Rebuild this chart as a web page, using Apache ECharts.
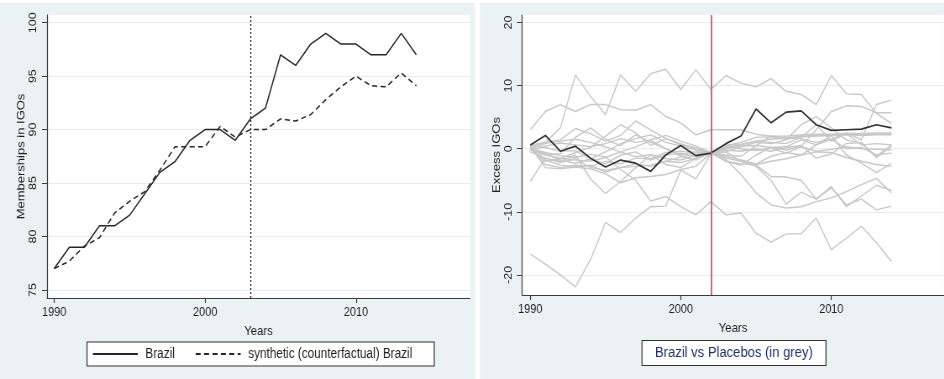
<!DOCTYPE html>
<html>
<head>
<meta charset="utf-8">
<script src="https://cdn.jsdelivr.net/npm/echarts@6/dist/echarts.min.js"></script>
<style>
  html, body { margin: 0; padding: 0; background: #ffffff; overflow: hidden; }
  #frame { position: relative; width: 944px; height: 379px; overflow: hidden; }
  /* the figure is laid out on a wider canvas and squeezed horizontally */
  #chart { position: absolute; left: 0; top: 0; width: 1124px; height: 379px;
           transform: scaleX(0.84); transform-origin: 0 0; }
</style>
</head>
<body>
<div id="frame"><div id="chart"></div></div>
<script>
// Years covered by both panels
const years = [1990, 1991, 1992, 1993, 1994, 1995, 1996, 1997, 1998, 1999, 2000, 2001, 2002,
               2003, 2004, 2005, 2006, 2007, 2008, 2009, 2010, 2011, 2012, 2013, 2014];

// Left panel: IGO memberships, actual vs synthetic Brazil
const brazilIGOs    = [77, 79, 79, 81, 81, 82, 84, 86, 87, 89, 90, 90, 89,
                       91, 92, 97, 96, 98, 99, 98, 98, 97, 97, 99, 97];
const syntheticIGOs = [77, 77.7, 79.1, 79.9, 82.2, 83.3, 84.2, 86.2, 88.4, 88.4, 88.4, 90.3, 89.3,
                       90.0, 90.0, 91.0, 90.8, 91.4, 92.8, 94.0, 95.0, 94.1, 94.0, 95.3, 94.1];

// Right panel: excess IGOs for Brazil and the placebo units
const brazilGap = [0.6, 2.1, -0.4, 0.4, -1.5, -2.9, -1.8, -2.3, -3.6, -1.0, 0.5, -1.1, -0.7,
                   0.8, 2.0, 6.3, 4.1, 5.8, 6.0, 3.8, 2.9, 3.0, 3.1, 3.8, 3.3];

const placeboGaps = [
  [-16.7, -18.3, -20.0, -21.9, -17.6, -11.7, -13.3, -11.0, -9.2, -9.1, -3.4, -4.8, -0.8,
   -1.7, -4.1, -7.0, -8.9, -9.4, -9.2, -8.4, -7.8, -6.8, -5.7, -4.7, -7.0],
  [0.3, 1.0, 3.3, 11.7, 8.3, 5.4, 11.7, 9.1, 11.9, 12.6, 9.4, 12.5, 9.4,
   11.6, 10.4, 9.8, 11.1, 9.1, 8.6, 7.0, 11.6, 8.7, 8.6, 5.6, 4.0],
  [3.0, 5.9, 7.0, 5.9, 7.0, 7.0, 6.2, 6.1, 7.0, 5.1, 4.1, 2.2, 3.0,
   3.0, 3.0, 2.3, 2.0, 2.0, 2.2, 2.3, 2.3, 2.4, 2.4, 2.5, 2.5],
  [0.0, -0.6, -1.1, -1.4, -0.9, -1.3, -3.3, -5.0, -8.3, -7.6, -9.2, -10.5, -8.4,
   -10.5, -10.2, -13.4, -14.8, -13.5, -13.5, -11.0, -16.0, -14.2, -12.3, -14.9, -17.9],
  [-5.2, -1.5, -2.0, -1.0, -4.8, -7.1, -5.2, -3.0, -1.0, -2.5, -3.0, -1.5, -0.6,
   -2.0, -2.4, -2.6, -4.4, -4.5, -5.0, -8.0, -6.2, -8.9, -8.0, -9.7, -9.1],
  [0.5, -1.8, -2.6, -2.9, -3.2, -4.0, -5.4, -4.6, -4.4, -4.1, -3.3, -2.8, -0.7,
   -0.5, -2.0, -2.8, -5.0, -8.8, -6.9, -8.0, -6.0, -9.2, -7.5, -5.8, -6.6],
  [0.0, -1.0, -0.8, 1.8, 3.3, 1.5, 0.5, 2.2, 1.0, 0.0, -1.0, -0.5, -0.6,
   -0.5, 0.3, 1.0, 0.8, 1.4, 3.8, 5.1, 3.3, 1.4, 0.8, -1.2, 0.6],
  [0.0, 0.8, 1.2, 1.5, 1.0, 0.3, -0.5, 0.3, 1.3, 0.0, -1.2, -1.8, -0.6,
   0.0, 0.4, 0.5, 0.2, -0.2, 0.4, 3.0, 5.9, 6.8, 6.7, 5.7, 5.7],
  [-0.5, -1.5, -2.2, -1.6, -3.0, -3.4, -3.0, -2.4, -2.8, -2.0, -1.3, -0.9, -0.6,
   -1.0, -1.2, 0.5, 2.0, 1.8, 1.6, 1.0, 1.5, 2.5, 1.4, 7.0, 7.7],
  [-0.3, 0.4, 0.9, 0.6, 0.3, 0.8, 1.6, 1.0, 1.4, 2.1, 1.2, 0.4, -0.6,
   0.2, 0.6, 1.2, 1.5, 1.7, 2.0, 2.1, 2.2, 2.3, 2.3, 2.3, 2.3],
  [0.2, -0.8, -1.8, -2.3, -1.6, -2.4, -1.0, -0.5, -1.8, -1.0, -0.7, -1.3, -0.6,
   -2.0, -2.6, -1.0, 0.2, 0.3, 1.4, 0.6, 2.1, -1.0, -2.3, -3.8, -2.3],
  [-0.2, -1.0, -1.5, -1.8, -2.0, -1.4, -0.5, -1.3, -0.9, -1.6, -1.8, -1.0, -0.6,
   -1.5, -2.0, -2.5, -2.0, -1.6, -1.0, -0.5, -0.6, -1.4, -2.0, -2.5, -2.8],
  [0.1, -2.5, -3.0, -2.6, -2.8, -2.0, -2.4, -1.5, -1.6, -0.6, -0.4, -0.6, -0.6,
   -0.2, -0.4, 0.0, -0.4, 0.2, 0.5, -1.5, -0.8, 0.8, 1.0, -1.4, 0.4],
  [0.4, 0.2, -0.4, -0.3, -1.6, -0.5, 0.8, 1.6, 2.2, 1.0, 0.4, -0.2, -0.6,
   0.3, 0.0, -0.3, 0.1, -0.7, 0.3, -0.4, -0.1, 0.3, 0.0, -0.1, -0.2],
  [0.0, -2.0, -1.6, -0.6, 0.2, 2.0, 3.8, 2.5, 0.5, 1.6, 0.8, 0.1, -0.6,
   0.5, 1.0, 1.8, 1.9, 1.5, 1.9, 2.0, 2.1, 2.2, 2.1, 2.2, 2.2],
  [0.3, -3.0, -3.2, -2.9, -2.6, -3.7, -3.0, -2.8, -2.6, -2.0, -2.2, -1.5, -0.6,
   -1.2, -1.8, -2.4, -1.2, -0.6, -1.0, 0.6, 1.5, 0.0, 0.2, -1.0, -0.7],
  [0.6, 1.0, 1.4, 3.2, 2.4, 1.2, 2.1, 4.4, 3.0, 1.6, 0.6, 0.1, -0.6,
   0.5, 0.7, 1.2, 1.0, 0.8, 1.8, 3.8, 1.2, 2.4, 0.6, 0.8, 0.6]
];

// Axis ticks and reference years
const xTicks = [1990, 2000, 2010];
const leftYTicks = [75, 80, 85, 90, 95, 100];
const rightYTicks = [-20, -10, 0, 10, 20];
const leftCutYear = 2003;
const rightCutYear = 2002;

// horizontal squeeze applied to the canvas (see CSS); x sizes below are pre-squeeze
const SX = 0.84;
const hx = v => v / SX;

const FONT = '"Liberation Sans", Arial, sans-serif';
const AXIS_COLOR = '#3c3c3c';
const TEXT_COLOR = '#1e1e1e';
const GRID_COLOR = '#e3ecee';
const PANEL_BG = '#eaf2f3';

const pairs = vals => years.map((y, i) => [y, vals[i]]);

function xAxisFor(gridIndex, min, max) {
  return {
    gridIndex, type: 'value', min, max,
    name: 'Years', nameLocation: 'middle', nameGap: 22,
    nameTextStyle: { fontFamily: FONT, fontSize: 13.5, color: TEXT_COLOR },
    axisLine: { show: true, onZero: false, lineStyle: { color: AXIS_COLOR, width: 1 } },
    axisTick: { show: true, customValues: xTicks, length: 5, lineStyle: { color: AXIS_COLOR, width: 1.2 } },
    axisLabel: {
      customValues: xTicks, margin: 8, fontFamily: FONT, fontSize: 13, color: TEXT_COLOR,
      formatter: v => String(v)
    },
    splitLine: { show: false }
  };
}

function yAxisFor(gridIndex, min, max, ticks, name) {
  return {
    gridIndex, type: 'value', min, max,
    name, nameLocation: 'middle', nameGap: hx(20), nameRotate: 90,
    nameTextStyle: { fontFamily: FONT, fontSize: 13, color: TEXT_COLOR },
    axisLine: { show: true, onZero: false, lineStyle: { color: AXIS_COLOR, width: 1.2 } },
    axisTick: { show: true, customValues: ticks, length: hx(5), lineStyle: { color: AXIS_COLOR } },
    axisLabel: {
      customValues: ticks, rotate: 90, margin: hx(8), fontFamily: FONT, fontSize: 12.5, color: TEXT_COLOR,
      formatter: v => String(v)
    },
    splitLine: { show: true, lineStyle: { color: GRID_COLOR, width: 1 } }
  };
}

const placeboSeries = placeboGaps.map((vals, k) => ({
  name: 'placebo ' + (k + 1),
  type: 'line', xAxisIndex: 1, yAxisIndex: 1,
  data: pairs(vals), symbol: 'none', silent: true, z: 2,
  lineStyle: { color: '#c8c8c8', width: 1.4 }
}));

const option = {
  animation: false,
  backgroundColor: '#ffffff',
  graphic: [
    { type: 'rect', z: -100, shape: { x: 0, y: 3, width: hx(475), height: 376 }, style: { fill: PANEL_BG } },
    { type: 'rect', z: -100, shape: { x: hx(480), y: 3, width: hx(464), height: 376 }, style: { fill: PANEL_BG } }
  ],
  grid: [
    { left: hx(47), top: 15, width: hx(423), height: 283, show: true, backgroundColor: '#ffffff', borderWidth: 0 },
    { left: hx(522), top: 15, width: hx(422), height: 280, show: true, backgroundColor: '#ffffff', borderWidth: 0 }
  ],
  xAxis: [
    xAxisFor(0, 1989.52, 2017.56),
    xAxisFor(1, 1989.45, 2017.49)
  ],
  yAxis: [
    yAxisFor(0, 74.25, 100.72, leftYTicks, 'Memberships in IGOs'),
    yAxisFor(1, -23.2, 21.2, rightYTicks, 'Excess IGOs')
  ],
  legend: {
    data: ['Brazil', 'synthetic (counterfactual) Brazil'],
    left: hx(87), top: 342,
    itemWidth: hx(45), itemHeight: 14, itemGap: hx(20),
    padding: [5, hx(22), 5, hx(5)],
    borderColor: '#333333', borderWidth: 1.2, borderRadius: 0,
    backgroundColor: '#ffffff',
    selectedMode: false,
    itemStyle: { color: 'rgba(0,0,0,0)', borderWidth: 0 },
    textStyle: { fontFamily: FONT, fontSize: 14, color: TEXT_COLOR, padding: [0, 0, 0, 4] }
  },
  title: {
    text: 'Brazil vs Placebos (in grey)',
    left: hx(642), top: 340,
    padding: [5, hx(13), 5, hx(13)],
    borderColor: '#333333', borderWidth: 1.2,
    backgroundColor: '#ffffff',
    textStyle: { fontFamily: FONT, fontSize: 15.5, fontWeight: 'normal', color: '#22306a' }
  },
  series: [
    {
      name: 'Brazil', type: 'line', xAxisIndex: 0, yAxisIndex: 0,
      data: pairs(brazilIGOs), symbol: 'none', z: 3,
      lineStyle: { color: '#262626', width: 1.5, type: 'solid' }
    },
    {
      name: 'synthetic (counterfactual) Brazil', type: 'line', xAxisIndex: 0, yAxisIndex: 0,
      data: pairs(syntheticIGOs), symbol: 'none', z: 3,
      lineStyle: { color: '#262626', width: 1.5, type: [6, 4] },
      markLine: {
        silent: true, symbol: ['none', 'none'], label: { show: false },
        lineStyle: { color: '#2a2a2a', width: 1.4, type: [2, 2] },
        data: [{ xAxis: leftCutYear }]
      }
    },
    ...placeboSeries,
    {
      name: 'Brazil gap', type: 'line', xAxisIndex: 1, yAxisIndex: 1,
      data: pairs(brazilGap), symbol: 'none', z: 4,
      lineStyle: { color: '#333333', width: 1.7 },
      markLine: {
        silent: true, symbol: ['none', 'none'], label: { show: false },
        lineStyle: { color: '#d2566a', width: 1.8, type: 'solid' },
        data: [{ xAxis: rightCutYear }]
      }
    }
  ]
};

const chart = echarts.init(document.getElementById('chart'), null, { renderer: 'canvas' });
chart.setOption(option);
</script>
</body>
</html>
